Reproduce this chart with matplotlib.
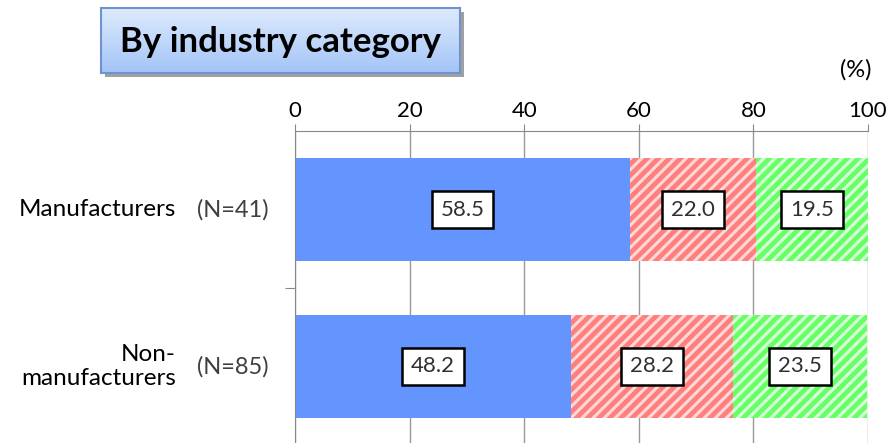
import numpy as np
import matplotlib.pyplot as plt
from matplotlib.patches import Rectangle

plt.rcParams['font.family'] = ['Lato', 'DejaVu Sans']
plt.rcParams['hatch.linewidth'] = 2.2

# Datos por categoría de industria (%)
categorias = ['Manufacturers', 'Non-\nmanufacturers']
muestras = ['(N=41)', '(N=85)']
serie_a = [58.5, 48.2]
serie_b = [22.0, 28.2]
serie_c = [19.5, 23.5]
ticks_x = [0, 20, 40, 60, 80, 100]

fig = plt.figure(figsize=(8.91, 4.43), dpi=100)
W, H = 891, 443

ax = fig.add_axes([295 / W, -2 / H, 573 / W, (443 - 131 + 2) / H])
y = np.arange(len(categorias))
alto = 0.66

izq = np.zeros(len(categorias))
estilos = [
    (serie_a, '#6495ff', None, '#6495ff'),
    (serie_b, '#ff7f7f', '///', '#ffd8d8'),
    (serie_c, '#66ff66', '///', '#d8ffd8'),
]
for valores, color, hatch, borde in estilos:
    barras = ax.barh(y, valores, left=izq, height=alto, color=color,
                     hatch=hatch, edgecolor=borde, linewidth=0, zorder=2)
    for b, v in zip(barras, valores):
        ax.text(b.get_x() + b.get_width() / 2, b.get_y() + b.get_height() / 2,
                f'{v:.1f}', ha='center', va='center', fontsize=16,
                color='#303030', zorder=4,
                bbox=dict(boxstyle='square,pad=0.4', fc='white', ec='black', lw=1.8))
    izq += np.array(valores)

ax.set_xlim(0, 100)
ax.set_ylim(len(categorias) - 0.5, -0.5)
ax.xaxis.tick_top()
ax.set_xticks(ticks_x)
ax.set_xticklabels([str(t) for t in ticks_x], fontsize=16)
ax.tick_params(axis='x', length=5, color='#888888', pad=2)
ax.grid(axis='x', color='#999999', lw=1, zorder=0)
ax.set_yticks([0.5])
ax.set_yticklabels([])
ax.tick_params(axis='y', length=7, color='#888888')
for s in ['top', 'left']:
    ax.spines[s].set_color('#888888')
for s in ['right', 'bottom']:
    ax.spines[s].set_visible(False)

# Etiquetas de categoría y tamaño de muestra
for i, (cat, n) in enumerate(zip(categorias, muestras)):
    yy = ax.transData.transform((0, i))[1] / H
    fig.text(176 / W, yy, cat, ha='right', va='center', fontsize=17.5,
             color='black', linespacing=1.2)
    fig.text(197 / W, yy, n, ha='left', va='center', fontsize=17, color='#404040')

fig.text(856 / W, 1 - 70 / H, '(%)', ha='center', va='center', fontsize=17)

# Recuadro del título con degradado y sombra
bx0, by0, bw, bh = 101, 8, 359, 65
fig.patches.append(Rectangle(((bx0 + 4) / W, 1 - (by0 + bh + 4) / H), bw / W, bh / H,
                             transform=fig.transFigure, fc='#a0a0a0', ec='none', zorder=1))
tax = fig.add_axes([bx0 / W, 1 - (by0 + bh) / H, bw / W, bh / H], zorder=2)
grad = np.linspace(0, 1, 64).reshape(-1, 1)
arriba = np.array([0.87, 0.92, 0.99])
abajo = np.array([0.64, 0.77, 0.97])
img = arriba + grad[..., None] * (abajo - arriba)
tax.imshow(img, aspect='auto', extent=[0, 1, 0, 1], origin='upper')
tax.set_xticks([])
tax.set_yticks([])
for s in tax.spines.values():
    s.set_color('#6f93cf')
    s.set_linewidth(1.5)
tax.text(0.5, 0.48, 'By industry category', ha='center', va='center',
         fontsize=25, fontweight='bold', color='black', transform=tax.transAxes)

fig.savefig('out.png', dpi=100)
